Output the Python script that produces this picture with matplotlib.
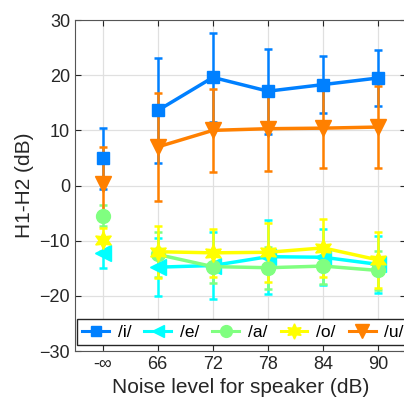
import numpy as np
import matplotlib
matplotlib.use('Agg')
import matplotlib.pyplot as plt
from matplotlib.lines import Line2D

plt.rcParams['font.family'] = ['Liberation Sans', 'DejaVu Sans']

# noise levels (first one is the quiet condition, -inf)
levels = ['-\u221e', '66', '72', '78', '84', '90']

# mean H1-H2 per vowel (dB)
i_mean = [4.9, 13.6, 19.6, 17.1, 18.3, 19.5]
e_mean = [-12.2, -14.8, -14.5, -12.9, -13.0, -14.3]
a_mean = [-5.5, -12.5, -14.7, -14.9, -14.6, -15.4]
o_mean = [-9.8, -12.0, -12.2, -12.1, -11.3, -13.5]
u_mean = [0.3, 7.0, 10.0, 10.3, 10.4, 10.6]

# standard deviations
i_sd = [5.6, 9.5, 8.1, 7.7, 5.2, 5.0]
e_sd = [2.7, 5.2, 6.0, 6.7, 5.1, 5.2]
a_sd = [1.9, 4.0, 3.0, 3.8, 3.3, 3.6]
o_sd = [2.1, 4.7, 4.3, 5.3, 5.2, 5.0]
u_sd = [6.6, 9.8, 7.5, 7.6, 7.3, 7.4]

vowels = ['/i/', '/e/', '/a/', '/o/', '/u/']
means = [i_mean, e_mean, a_mean, o_mean, u_mean]
sds = [i_sd, e_sd, a_sd, o_sd, u_sd]
colors = ['#0080ff', '#00ffff', '#80ff80', '#ffff00', '#ff8000']
markers = ['s', '<', 'o', (6, 1, 0), 'v']
msizes = [9, 11, 10, 13, 12]

fig = plt.figure(figsize=(4.04, 4.12), dpi=100)
ax = fig.add_axes([0.1856, 0.148, 0.8193, 0.8034])

x = np.arange(len(levels))
handles = []
for name, m, s, c, mk, ms in zip(vowels, means, sds, colors, markers, msizes):
    # quiet condition is a separate point, not joined to the rest
    ax.errorbar(x[:1], m[:1], yerr=s[:1], color=c, marker=mk, ms=ms,
                elinewidth=1.8, capsize=3, capthick=1.8, ls='none')
    ax.errorbar(x[1:], m[1:], yerr=s[1:], color=c, marker=mk, ms=ms,
                lw=2.5, elinewidth=1.8, capsize=3, capthick=1.8)
    handles.append(Line2D([], [], color=c, marker=mk, ms=ms * 0.85, lw=2.2,
                          label=name))

ax.set_xlim(-0.5, 5.5)
ax.set_ylim(-30, 30)
ax.set_xticks(x)
ax.set_xticklabels(levels)
ax.set_yticks(np.arange(-30, 31, 10))
ax.grid(True, color='#e0e0e0', lw=0.9)
ax.set_axisbelow(True)
ax.tick_params(direction='in', top=True, right=True, labelsize=13,
               colors='#262626', length=4)
for sp in ax.spines.values():
    sp.set_color('#555555')
ax.set_xlabel('Noise level for speaker (dB)', fontsize=15, color='#262626')
ax.set_ylabel('H1-H2 (dB)', fontsize=15, color='#262626')

leg = ax.legend(handles=handles, loc='lower left',
                bbox_to_anchor=(0.006, 0.018), ncol=5,
                fontsize=12.5, handlelength=1.55, handletextpad=0.5,
                columnspacing=0.75, borderpad=0.3, borderaxespad=0,
                fancybox=False, framealpha=1, edgecolor='#262626')
leg.get_frame().set_linewidth(1.0)

fig.savefig('out.png', dpi=100)
